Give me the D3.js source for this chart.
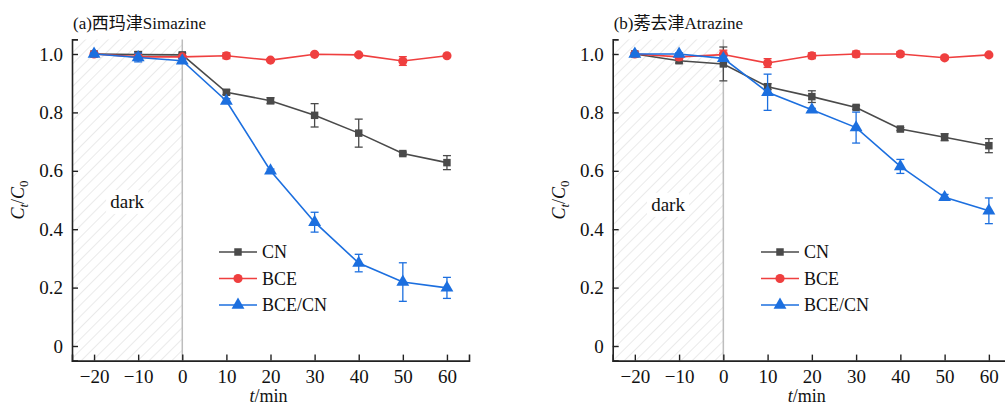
<!doctype html>
<html>
<head>
<meta charset="utf-8">
<script src="https://d3js.org/d3.v7.min.js"></script>
<style>
body { margin:0; background:#fff; }
text { font-family: "Liberation Serif", "Noto Sans CJK SC", serif; fill:#111; }
</style>
</head>
<body>
<script>
// time points (min)
var times = [-20, -10, 0, 10, 20, 30, 40, 50, 60];
var xTicks = [-20, -10, 0, 10, 20, 30, 40, 50, 60];
var yTicks = [0, 0.2, 0.4, 0.6, 0.8, 1.0];
var seriesNames = ['CN', 'BCE', 'BCE/CN'];
var seriesColors = ['#4a4a4a', '#ef3f3f', '#1c6fdf'];

// panel (a) Simazine
var simCN     = [1.000, 0.998, 0.997, 0.869, 0.840, 0.790, 0.729, 0.659, 0.628];
var simCNErr  = [0.004, 0.010, 0.006, 0.008, 0.010, 0.040, 0.048, 0.005, 0.024];
var simBCE    = [1.000, 0.990, 0.990, 0.994, 0.979, 0.999, 0.997, 0.976, 0.994];
var simBCEErr = [0.004, 0.006, 0.004, 0.010, 0.004, 0.004, 0.005, 0.015, 0.004];
var simMix    = [1.000, 0.988, 0.977, 0.839, 0.600, 0.424, 0.284, 0.219, 0.199];
var simMixErr = [0.004, 0.015, 0.008, 0.008, 0.006, 0.034, 0.030, 0.066, 0.036];

// panel (b) Atrazine
var atrCN     = [1.000, 0.977, 0.966, 0.888, 0.854, 0.817, 0.743, 0.715, 0.686];
var atrCNErr  = [0.004, 0.008, 0.058, 0.010, 0.020, 0.006, 0.005, 0.012, 0.024];
var atrBCE    = [1.000, 0.990, 0.998, 0.969, 0.994, 1.000, 1.000, 0.987, 0.997];
var atrBCEErr = [0.004, 0.010, 0.015, 0.015, 0.010, 0.010, 0.008, 0.006, 0.004];
var atrMix    = [1.000, 1.000, 0.985, 0.869, 0.809, 0.748, 0.615, 0.509, 0.463];
var atrMixErr = [0.004, 0.004, 0.008, 0.062, 0.005, 0.053, 0.024, 0.010, 0.044];

var panels = [
	{title:'(a)西玛津Simazine', x0:72, x1:469, darkY:0.49, legX:219,
	 values:[simCN, simBCE, simMix], errs:[simCNErr, simBCEErr, simMixErr]},
	{title:'(b)莠去津Atrazine', x0:612.7, x1:1011, darkY:0.48, legX:761,
	 values:[atrCN, atrBCE, atrMix], errs:[atrCNErr, atrBCEErr, atrMixErr]}
];

var symbols = [d3.symbolSquare, d3.symbolCircle, d3.symbolTriangle];
var symSizes = [56, 66, 72];

var svg = d3.select('body').append('svg').attr('width',1005).attr('height',405);

// hatch pattern for the dark period
var pat = svg.append('defs').append('pattern').attr('id','hatch')
	.attr('patternUnits','userSpaceOnUse').attr('width',8).attr('height',8)
	.attr('patternTransform','rotate(45)');
pat.append('line').attr('x1',0).attr('y1',0).attr('x2',0).attr('y2',8)
	.style('stroke','#d6d6d6').style('stroke-width',1);

var yScale = d3.scaleLinear().domain([-0.05, 1.05]).range([360.6, 39.4]);

panels.forEach(function(p, pi) {
	var xScale = d3.scaleLinear().domain([-25, 65]).range([p.x0, p.x1]);
	var g = svg.append('g');

	// dark region
	g.append('rect').attr('x',xScale(-25)).attr('y',yScale(1.05))
		.attr('width',xScale(0)-xScale(-25)).attr('height',yScale(-0.05)-yScale(1.05))
		.style('fill','url(#hatch)');
	g.append('line').attr('x1',xScale(0)).attr('x2',xScale(0))
		.attr('y1',yScale(1.05)).attr('y2',yScale(-0.05))
		.style('stroke','#bdbdbd').style('stroke-width',1.5);

	var dk = g.append('g');
	dk.append('rect').attr('x',xScale(-12.5)-21).attr('y',yScale(p.darkY)-13)
		.attr('width',42).attr('height',24).style('fill','#fff');
	dk.append('text').attr('x',xScale(-12.5)).attr('y',yScale(p.darkY)+5)
		.attr('text-anchor','middle').style('font-size','19px').text('dark');

	// axes
	var xAxis = d3.axisBottom(xScale).tickValues(xTicks).tickSizeInner(-6).tickSizeOuter(-6)
		.tickPadding(9).tickFormat(function(d){ return d < 0 ? '\u2212' + (-d) : d; });
	var xg = g.append('g').attr('transform','translate(0,'+yScale(-0.05)+')').call(xAxis);
	var yAxis = d3.axisLeft(yScale).tickValues(yTicks).tickSizeInner(-6).tickSizeOuter(-6)
		.tickPadding(9).tickFormat(function(d){ return d === 0 ? '0' : d3.format('.1f')(d); });
	var yg = g.append('g').attr('transform','translate('+xScale(-25)+',0)').call(yAxis);
	[xg, yg].forEach(function(a) {
		a.selectAll('path').style('stroke','#222').style('stroke-width',1.6);
		a.selectAll('line').style('stroke','#222').style('stroke-width',1.4);
		a.selectAll('text').style('font-size','19px').style('font-family','"Liberation Serif", serif').style('fill','#111');
	});

	// labels
	g.append('text').attr('x',p.x0+1).attr('y',29).style('font-size','17px').text(p.title);
	var xl = g.append('text').attr('x',(xScale(-25)+xScale(65))/2 - 2 + (pi ? -3 : 0)).attr('y',402)
		.attr('text-anchor','middle').style('font-size','18px');
	xl.append('tspan').style('font-style','italic').text('t');
	xl.append('tspan').text('/min');
	var yl = g.append('text').attr('transform','translate('+(p.x0-48)+','+yScale(0.5)+') rotate(-90)')
		.attr('text-anchor','middle').style('font-size','18px');
	yl.append('tspan').style('font-style','italic').text('C');
	yl.append('tspan').style('font-style','italic').style('font-size','13px').attr('dy',4).text('t');
	yl.append('tspan').attr('dy',-4).text('/');
	yl.append('tspan').style('font-style','italic').text('C');
	yl.append('tspan').style('font-size','13px').attr('dy',4).text('0');

	// series
	var line = d3.line().x(function(d){ return xScale(d.t); }).y(function(d){ return yScale(d.v); });
	p.values.forEach(function(vals, si) {
		var color = seriesColors[si];
		var pts = times.map(function(t, i){ return {t:t, v:vals[i], e:p.errs[si][i]}; });
		var sg = g.append('g');
		sg.append('path').attr('d', line(pts)).style('fill','none').style('stroke',color).style('stroke-width',1.6);
		var eg = sg.selectAll('.err').data(pts).enter().append('g').style('stroke',color).style('stroke-width',1.3);
		eg.append('line').attr('x1',function(d){return xScale(d.t);}).attr('x2',function(d){return xScale(d.t);})
			.attr('y1',function(d){return yScale(d.v+d.e);}).attr('y2',function(d){return yScale(d.v-d.e);});
		eg.append('line').attr('x1',function(d){return xScale(d.t)-4;}).attr('x2',function(d){return xScale(d.t)+4;})
			.attr('y1',function(d){return yScale(d.v+d.e);}).attr('y2',function(d){return yScale(d.v+d.e);});
		eg.append('line').attr('x1',function(d){return xScale(d.t)-4;}).attr('x2',function(d){return xScale(d.t)+4;})
			.attr('y1',function(d){return yScale(d.v-d.e);}).attr('y2',function(d){return yScale(d.v-d.e);});
		sg.selectAll('.pt').data(pts).enter().append('path')
			.attr('d', d3.symbol().type(symbols[si]).size(symSizes[si]))
			.attr('transform', function(d){ return 'translate('+xScale(d.t)+','+yScale(d.v)+')'; })
			.style('fill',color);
	});

	// legend
	seriesNames.forEach(function(name, si) {
		var ly = 252 + si*26.5;
		var lg = g.append('g');
		lg.append('line').attr('x1',p.legX).attr('x2',p.legX+38).attr('y1',ly).attr('y2',ly)
			.style('stroke',seriesColors[si]).style('stroke-width',1.6);
		lg.append('path').attr('d', d3.symbol().type(symbols[si]).size(symSizes[si]))
			.attr('transform','translate('+(p.legX+19)+','+ly+')').style('fill',seriesColors[si]);
		lg.append('text').attr('x',p.legX+43).attr('y',ly+6).style('font-size','18px').text(name);
	});
});
</script>
</body>
</html>
